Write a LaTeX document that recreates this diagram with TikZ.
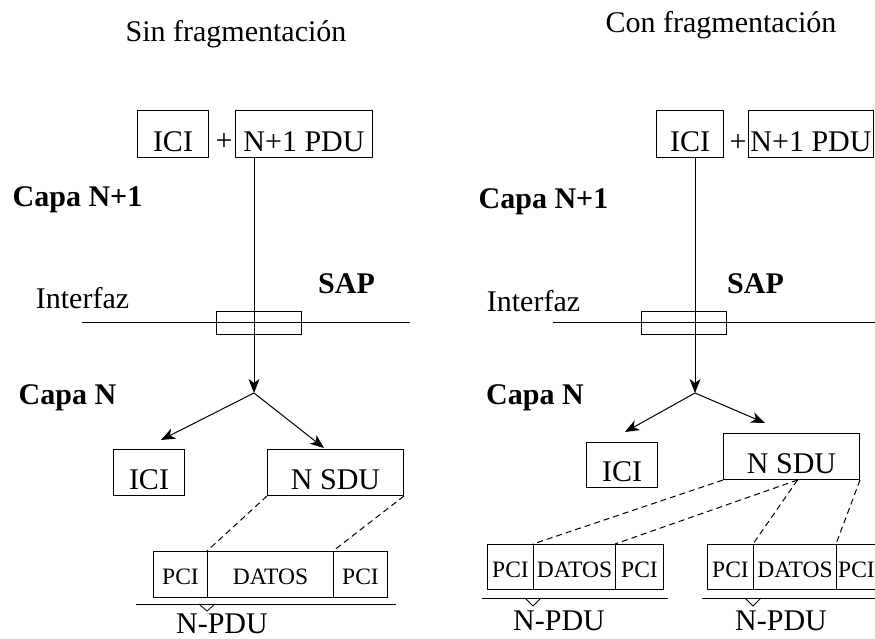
\documentclass[tikz,border=0pt]{standalone}
\usepackage{fontspec}
\setmainfont{Liberation Serif}
\usetikzlibrary{arrows.meta,calc}
\newcommand\fntA{\fontsize{30}{36}\selectfont}
\newcommand\fntB{\fontsize{23.5}{28}\selectfont}
\begin{document}
\begin{tikzpicture}[x=1pt,y=-1pt,
  line width=1pt,
  lbl/.style={inner sep=0pt, anchor=base, font=\fntA},
  bl/.style={inner sep=0pt, anchor=base, font=\fntA\bfseries},
  box/.style={draw, inner sep=0pt, anchor=north west, font=\fntA, text depth=6pt, text height=40pt, minimum height=46pt},
  tbox/.style={box, text height=41pt, minimum height=47pt},
  cell/.style={draw, inner sep=0pt, anchor=north west, font=\fntB, text depth=13pt, text height=33pt, minimum height=46pt},
  rcell/.style={cell, text depth=12pt, minimum height=45pt},
  sap/.style={draw, inner sep=0pt, minimum width=85pt, minimum height=23pt},
  arr/.style={-{Stealth[length=14pt,width=11pt,inset=4pt]}},
  dsh/.style={dash pattern=on 6pt off 4pt}
]
\useasboundingbox (0,0) rectangle (875,639);
\clip (0,0) rectangle (875,639);

% ---------------- Left: Sin fragmentacion
\node[lbl] (titL) at (236,42) {Sin fragmentación};
\node[tbox, minimum width=71pt] (iciTL) at (137,110) {ICI};
\node[lbl] (plusL) at (224,151) {+};
\node[tbox, minimum width=137pt] (pduTL) at (235,110) {N+1 PDU};
\node[bl] (capaL1) at (77.5,207) {Capa N+1};
\node[lbl] (intL) at (82.5,308) {Interfaz};
\node[bl] (sapTL) at (346.5,293) {SAP};
\coordinate (ifL1) at (82,322.7);
\coordinate (ifL2) at (410,322.7);
\draw (ifL1) -- (ifL2);
\node[sap] (sapL) at (258.5,322.5) {};
\coordinate (brL) at (254,393);
\draw[arr] (brL |- pduTL.south) -- (brL);
\node[bl] (capaL) at (67.5,404) {Capa N};
\node[box, minimum width=71pt] (iciL) at (113,449) {ICI};
\node[box, minimum width=136pt] (sduL) at (267,449) {N SDU};
\coordinate (tipL1) at (161,440);
\coordinate (tipL2) at (324,448);
\draw[arr] (brL) -- (tipL1);
\draw[arr] (brL) -- (tipL2);
\node[cell, minimum width=54pt] (pciL1) at (153,551) {PCI};
\node[cell, minimum width=126pt] (datL) at (207,551) {DATOS};
\node[cell, minimum width=54pt] (pciL2) at (333,551) {PCI};
\draw[dsh] (sduL.south west) -- (datL.north west);
\draw[dsh] (sduL.south east) -- (pciL2.north west);
\coordinate (ulL1) at (136,604);
\coordinate (ulL2) at (396,604);
\draw (ulL1) -- (ulL2);
\draw[line width=0.8pt] (199,604) -- (datL.south west |- 0,611) -- (215,604);
\node[lbl] (npduL) at (222,633.5) {N-PDU};

% ---------------- Right: Con fragmentacion
\node[lbl] (titR) at (721,33) {Con fragmentación};
\node[tbox, minimum width=67pt] (iciTR) at (656,110) {ICI};
\node[lbl] (plusR) at (738,152) {+};
\node[tbox, minimum width=125pt] (pduTR) at (748,110) {N+1 PDU};
\node[bl] (capaR1) at (543.5,208) {Capa N+1};
\node[lbl] (intR) at (533.5,311) {Interfaz};
\node[bl] (sapTR) at (755.5,293) {SAP};
\coordinate (ifR1) at (553,322.7);
\coordinate (ifR2) at (880,322.7);
\draw (ifR1) -- (ifR2);
\node[sap] (sapR) at (683.5,322.5) {};
\coordinate (brR) at (695,393);
\draw[arr] (brR |- iciTR.south) -- (brR);
\node[bl] (capaR) at (535,404) {Capa N};
\node[box, minimum width=71pt, text height=39pt, minimum height=45pt] (iciR) at (586,442) {ICI};
\node[box, minimum width=136pt] (sduR) at (723,433) {N SDU};
\coordinate (tipR1) at (625,432);
\coordinate (tipR2) at (765,423);
\draw[arr] (brR) -- (tipR1);
\draw[arr] (brR) -- (tipR2);
\node[rcell, minimum width=46pt] (pciR1a) at (487,544) {PCI};
\node[rcell, minimum width=82pt] (datR1) at (533,544) {DATOS};
\node[rcell, minimum width=48pt] (pciR1b) at (615,544) {PCI};
\node[rcell, minimum width=46pt] (pciR2a) at (707,544) {PCI};
\node[rcell, minimum width=83pt] (datR2) at (753,544) {DATOS};
\node[rcell, minimum width=40pt] (pciR2b) at (836,544) {PCI};
\coordinate (sduRm) at ($(sduR.south)+(6,0)$);
\draw[dsh] (sduR.south west) -- (datR1.north west);
\draw[dsh] (sduRm) -- (pciR1b.north west);
\draw[dsh] (sduRm) -- (datR2.north west);
\draw[dsh] (sduR.south east) -- (pciR2b.north west);
\coordinate (ulR1) at (482,598);
\coordinate (ulR2) at (668,598);
\draw (ulR1) -- (ulR2);
\draw[line width=0.8pt] (525,598) -- (datR1.south west |- 0,606) -- (541,598);
\coordinate (ulR3) at (702,598);
\coordinate (ulR4) at (880,598);
\draw (ulR3) -- (ulR4);
\draw[line width=0.8pt] (745,598) -- (datR2.south west |- 0,606) -- (761,598);
\node[lbl] (npduR1) at (559,630) {N-PDU};
\node[lbl] (npduR2) at (781,630) {N-PDU};
\end{tikzpicture}
\end{document}
